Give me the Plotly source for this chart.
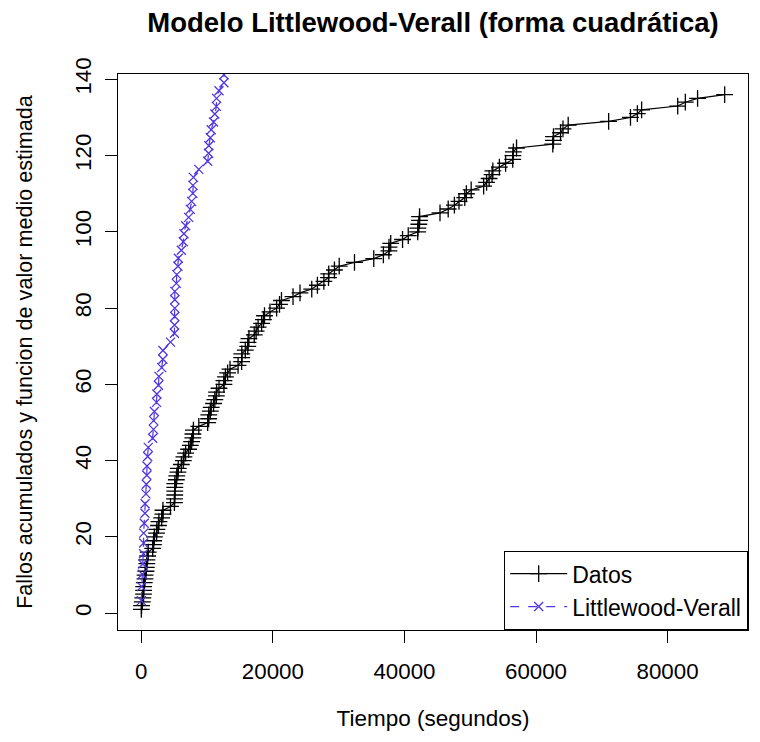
import plotly.graph_objects as go

# Cumulative failure times (seconds) for the observed failures
failure_times = [
    3, 33, 146, 227, 342, 351, 353, 444, 556, 571,
    709, 759, 836, 860, 968, 1056, 1726, 1846, 1872, 1986,
    2311, 2366, 2608, 2676, 3098, 3278, 3288, 4434, 5034, 5049,
    5085, 5089, 5089, 5097, 5324, 5389, 5565, 5623, 6080, 6380,
    6477, 6740, 7192, 7447, 7644, 7837, 7843, 7922, 8738, 10089,
    10237, 10258, 10491, 10625, 10982, 11175, 11411, 11442, 11811, 12559,
    12559, 12791, 13121, 13486, 14708, 15251, 15261, 15277, 15806, 16185,
    16229, 16358, 17168, 17458, 17758, 18287, 18568, 18728, 19556, 20567,
    21012, 21308, 23063, 24127, 25910, 26770, 27753, 28460, 28493, 29361,
    30085, 32408, 35338, 36799, 37642, 37654, 37915, 39715, 40580, 42015,
    42045, 42188, 42296, 42296, 45406, 46653, 47596, 48296, 49171, 49416,
    50145, 52042, 52489, 52875, 53321, 53443, 54433, 55381, 56463, 56485,
    56560, 57042, 62551, 62651, 62661, 63732, 64103, 64893, 71043, 74364,
    75409, 76057, 81542, 82702, 84566, 88682,
]
failure_count = list(range(1, len(failure_times) + 1))

# Estimated mean value of the Littlewood-Verall (quadratic) model
lv_mean = [
    3.3, 7.0, 10.2, 12.9, 15.6, 18.4, 21.0, 23.6, 26.2, 28.7,
    31.3, 33.8, 36.2, 38.6, 41.1, 43.5, 45.9, 48.2, 50.5, 52.9,
    55.3, 57.5, 59.8, 62.1, 64.4, 66.6, 68.9, 71.1, 73.4, 75.6,
    77.8, 80.0, 82.2, 84.4, 86.5, 88.8, 91.0, 93.1, 95.2, 97.4,
    99.5, 101.6, 103.8, 105.9, 108.0, 110.1, 112.2, 114.3, 116.4, 118.5,
    120.6, 122.6, 124.7, 126.8, 128.8, 130.9, 132.9, 135.0, 137.0, 139.1,
    141.2, 143.3,
]
lv_times = failure_times[:len(lv_mean)]

x_ticks = [0, 20000, 40000, 60000, 80000]
y_ticks = [0, 20, 40, 60, 80, 100, 120, 140]

FONT = "Liberation Sans, Arial, Helvetica, sans-serif"
LV_COLOR = "#5035e0"

fig = go.Figure()

fig.add_trace(go.Scatter(
    x=failure_times, y=failure_count,
    mode="lines+markers", name="Datos",
    line=dict(color="black", width=1.2),
    marker=dict(symbol="cross-thin", size=12,
                line=dict(color="black", width=1.3)),
))

fig.add_trace(go.Scatter(
    x=lv_times, y=lv_mean,
    mode="lines+markers", name="Littlewood-Verall",
    line=dict(color=LV_COLOR, width=1.2, dash="dash"),
    marker=dict(symbol="x-thin", size=9,
                line=dict(color=LV_COLOR, width=1.3)),
    cliponaxis=True,
))

# padded ranges so the frame sits slightly outside the data extent
x_lo, x_hi = min(failure_times), max(failure_times)
y_lo, y_hi = min(failure_count), max(failure_count)
x_pad = 0.04 * (x_hi - x_lo)
y_pad = 0.04 * (y_hi - y_lo)

axis_common = dict(
    showgrid=False, zeroline=False,
    showline=True, linecolor="black", linewidth=1.2, mirror=True,
    ticks="outside", ticklen=12, tickwidth=1.2, tickcolor="black",
    tickfont=dict(family=FONT, size=22.3, color="black"),
    automargin=False,
)

fig.update_layout(
    width=760, height=742,
    paper_bgcolor="white", plot_bgcolor="white",
    margin=dict(l=118, r=12, t=74, b=112),
    font=dict(family=FONT, color="black"),
    title=dict(
        text="<b>Modelo Littlewood-Verall (forma cuadrática)</b>",
        font=dict(family=FONT, size=27.5, color="black"),
        x=0.5, xref="paper", xanchor="center",
        y=1 - 22 / 742, yref="container", yanchor="middle",
    ),
    xaxis=dict(
        range=[x_lo - x_pad, x_hi + x_pad],
        tickvals=x_ticks, ticktext=[str(v) for v in x_ticks],
        ticklabelstandoff=9,
        title=dict(text="Tiempo (segundos)",
                   font=dict(family=FONT, size=22.5, color="black"),
                   standoff=27),
        **axis_common,
    ),
    yaxis=dict(
        range=[y_lo - y_pad, y_hi + y_pad],
        tickvals=y_ticks, ticktext=[str(v) for v in y_ticks],
        tickangle=-90,
        ticklabelstandoff=5,
        title=dict(text="Fallos acumulados y funcion de valor medio estimada",
                   font=dict(family=FONT, size=21.6, color="black"),
                   standoff=32),
        **axis_common,
    ),
    legend=dict(
        x=1, y=0, xanchor="right", yanchor="bottom",
        xref="paper", yref="paper",
        bgcolor="white", bordercolor="black", borderwidth=1.2,
        font=dict(family=FONT, size=23, color="black"),
        itemwidth=57, tracegroupgap=0,
    ),
    showlegend=True,
)

fig.write_html("out.html")
